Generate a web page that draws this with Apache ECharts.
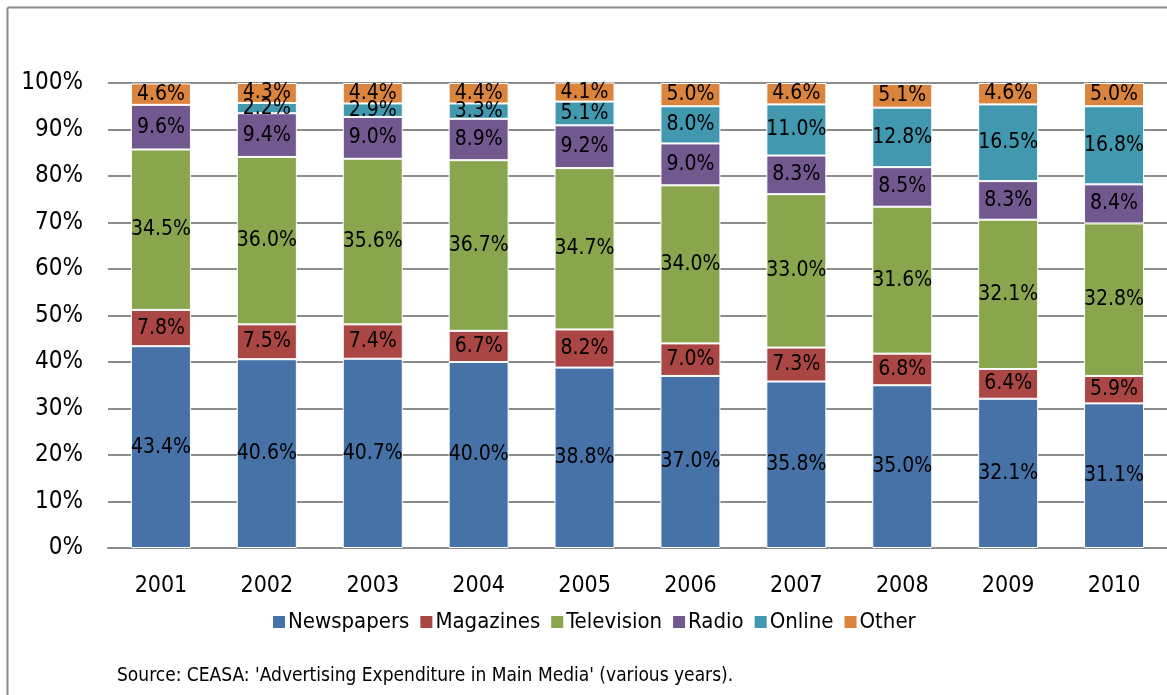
<!DOCTYPE html>
<html>
<head>
<meta charset="utf-8">
<script src="https://cdn.jsdelivr.net/npm/echarts@6/dist/echarts.min.js"></script>
<style>
  html, body { margin: 0; padding: 0; background: #fff; }
  #chart { width: 1167px; height: 695px; }
</style>
</head>
<body>
<div id="chart"></div>
<script>
// media shares of advertising spend, % per year
const years = ['2001', '2002', '2003', '2004', '2005', '2006', '2007', '2008', '2009', '2010'];
const newspapers = [43.4, 40.6, 40.7, 40.0, 38.8, 37.0, 35.8, 35.0, 32.1, 31.1];
const magazines  = [7.8, 7.5, 7.4, 6.7, 8.2, 7.0, 7.3, 6.8, 6.4, 5.9];
const television = [34.5, 36.0, 35.6, 36.7, 34.7, 34.0, 33.0, 31.6, 32.1, 32.8];
const radio      = [9.6, 9.4, 9.0, 8.9, 9.2, 9.0, 8.3, 8.5, 8.3, 8.4];
const online     = [null, 2.2, 2.9, 3.3, 5.1, 8.0, 11.0, 12.8, 16.5, 16.8];
const other      = [4.6, 4.3, 4.4, 4.4, 4.1, 5.0, 4.6, 5.1, 4.6, 5.0];
const yTicks = ['0%', '10%', '20%', '30%', '40%', '50%', '60%', '70%', '80%', '90%', '100%'];

const seriesDefs = [
  ['Newspapers', newspapers, '#4672a8'],
  ['Magazines', magazines, '#aa4643'],
  ['Television', television, '#89a54e'],
  ['Radio', radio, '#71588f'],
  ['Online', online, '#4198af'],
  ['Other', other, '#db843d']
];

const fontFam = '"DejaVu Sans Condensed", "DejaVu Sans", sans-serif';

const chart = echarts.init(document.getElementById('chart'));
chart.setOption({
  animation: false,
  textStyle: { fontFamily: fontFam },
  grid: { left: 108, right: 0, top: 83, bottom: 147 },
  graphic: [
    { type: 'line', shape: { x1: 7.5, y1: 7.5, x2: 7.5, y2: 700 }, style: { stroke: '#8c8c8c', lineWidth: 2 } },
    { type: 'line', shape: { x1: 7.5, y1: 7.5, x2: 1167, y2: 7.5 }, style: { stroke: '#8c8c8c', lineWidth: 2 } },
    {
      type: 'text', left: 117, top: 667,
      style: { text: "Source: CEASA: 'Advertising Expenditure in Main Media' (various years).", font: '19px ' + fontFam, fill: '#000' }
    }
  ],
  legend: {
    left: 266, top: 606,
    itemWidth: 14, itemHeight: 14, itemGap: 9,
    icon: 'rect',
    textStyle: { fontSize: 22, color: '#000', fontFamily: fontFam, padding: [0, 0, 0, -3] },
    data: seriesDefs.map(d => d[0])
  },
  xAxis: {
    type: 'category',
    data: years,
    axisLine: { lineStyle: { color: '#8c8c8c', width: 2 } },
    axisTick: { show: false },
    axisLabel: { color: '#000', fontSize: 23, margin: 27 }
  },
  yAxis: {
    type: 'value',
    min: 0, max: 100, interval: 10,
    axisLine: { show: false },
    axisTick: { show: false },
    splitLine: { lineStyle: { color: '#8c8c8c', width: 2 } },
    axisLabel: {
      color: '#000', fontSize: 24, margin: 25,
      formatter: v => yTicks[Math.round(v / 10)]
    }
  },
  series: seriesDefs.map(d => ({
    name: d[0],
    type: 'bar',
    stack: 'total',
    barWidth: 60,
    data: d[1],
    itemStyle: { color: d[2], borderColor: '#ffffff', borderWidth: 1 },
    label: {
      show: true,
      position: 'inside',
      color: '#000',
      fontSize: 21,
      fontFamily: fontFam,
      formatter: p => p.value == null ? '' : p.value.toFixed(1) + '%'
    }
  }))
});
</script>
</body>
</html>
